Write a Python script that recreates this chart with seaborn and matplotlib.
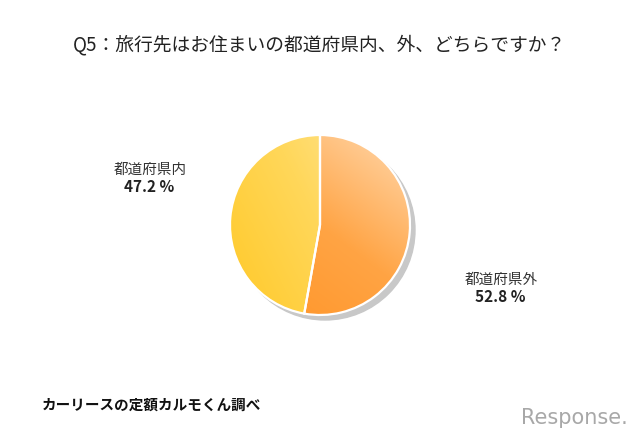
import numpy as np
import matplotlib
matplotlib.use("Agg")
import matplotlib.pyplot as plt
import seaborn as sns
from matplotlib.patches import Circle
from matplotlib.colors import LinearSegmentedColormap

title = "Q5：旅行先はお住まいの都道府県内、外、どちらですか？"
categories = ["都道府県外", "都道府県内"]
shares = [52.8, 47.2]
source = "カーリースの定額カルモくん調べ"

sns.set_style("white")
plt.rcParams['font.family'] = ['Noto Sans CJK JP', 'DejaVu Sans']

fig = plt.figure(figsize=(6.4, 4.43), dpi=100)
ax = fig.add_axes([0, 0, 1, 1])
ax.set_xlim(0, 640)
ax.set_ylim(0, 443)
ax.axis("off")

cx, cy, r = 320, 443 - 225, 90

# drop shadow
ax.add_patch(Circle((cx + 5, cy - 5), r, color="#c8c8c8", zorder=1))

wedges, _ = ax.pie(shares, center=(cx, cy), radius=r, startangle=90,
                   counterclock=False, colors=["#ffb060", "#ffd660"],
                   wedgeprops=dict(edgecolor="white", linewidth=1.6))
for w in wedges:
    w.set_zorder(3)

# gradient fills clipped to each wedge
n = 200
gx, gy = np.meshgrid(np.linspace(0, 1, n), np.linspace(0, 1, n))
extent = (cx - r, cx + r, cy - r, cy + r)
orange = LinearSegmentedColormap.from_list("o", ["#ff9426", "#ffa444", "#ffd8ad"])
yellow = LinearSegmentedColormap.from_list("y", ["#ffc928", "#ffd75a", "#ffe9a6"])
g1 = (gx * 0.6 + gy * 0.8) / 1.4
g2 = (gx * 0.8 + gy * 0.4) / 1.2
for w, g, cm in [(wedges[0], g1, orange), (wedges[1], g2, yellow)]:
    im = ax.imshow(g, cmap=cm, extent=extent, origin="lower", zorder=2, aspect="auto")
    im.set_clip_path(w)
    w.set_facecolor("none")

ax.set_xlim(0, 640)
ax.set_ylim(0, 443)
ax.set_aspect("auto")

ax.text(320, 443 - 45, title, ha="center", va="center", fontsize=13.5, color="#222222")

ax.text(150, 443 - 170, categories[1], ha="center", va="center", fontsize=10.5, color="#333333")
ax.text(149, 443 - 187, f"{shares[1]} %", ha="center", va="center", fontsize=11,
        fontweight="bold", color="#222222")
ax.text(501, 443 - 280, categories[0], ha="center", va="center", fontsize=10.5, color="#333333")
ax.text(500, 443 - 297, f"{shares[0]} %", ha="center", va="center", fontsize=11,
        fontweight="bold", color="#222222")

ax.text(42, 443 - 405, source, ha="left", va="center", fontsize=10.5,
        fontweight="bold", color="#111111")
ax.text(628, 443 - 418, "Response.", ha="right", va="center", fontsize=15,
        color="#a8a8a8", family=["DejaVu Sans"])

fig.savefig("out.png", dpi=100)
